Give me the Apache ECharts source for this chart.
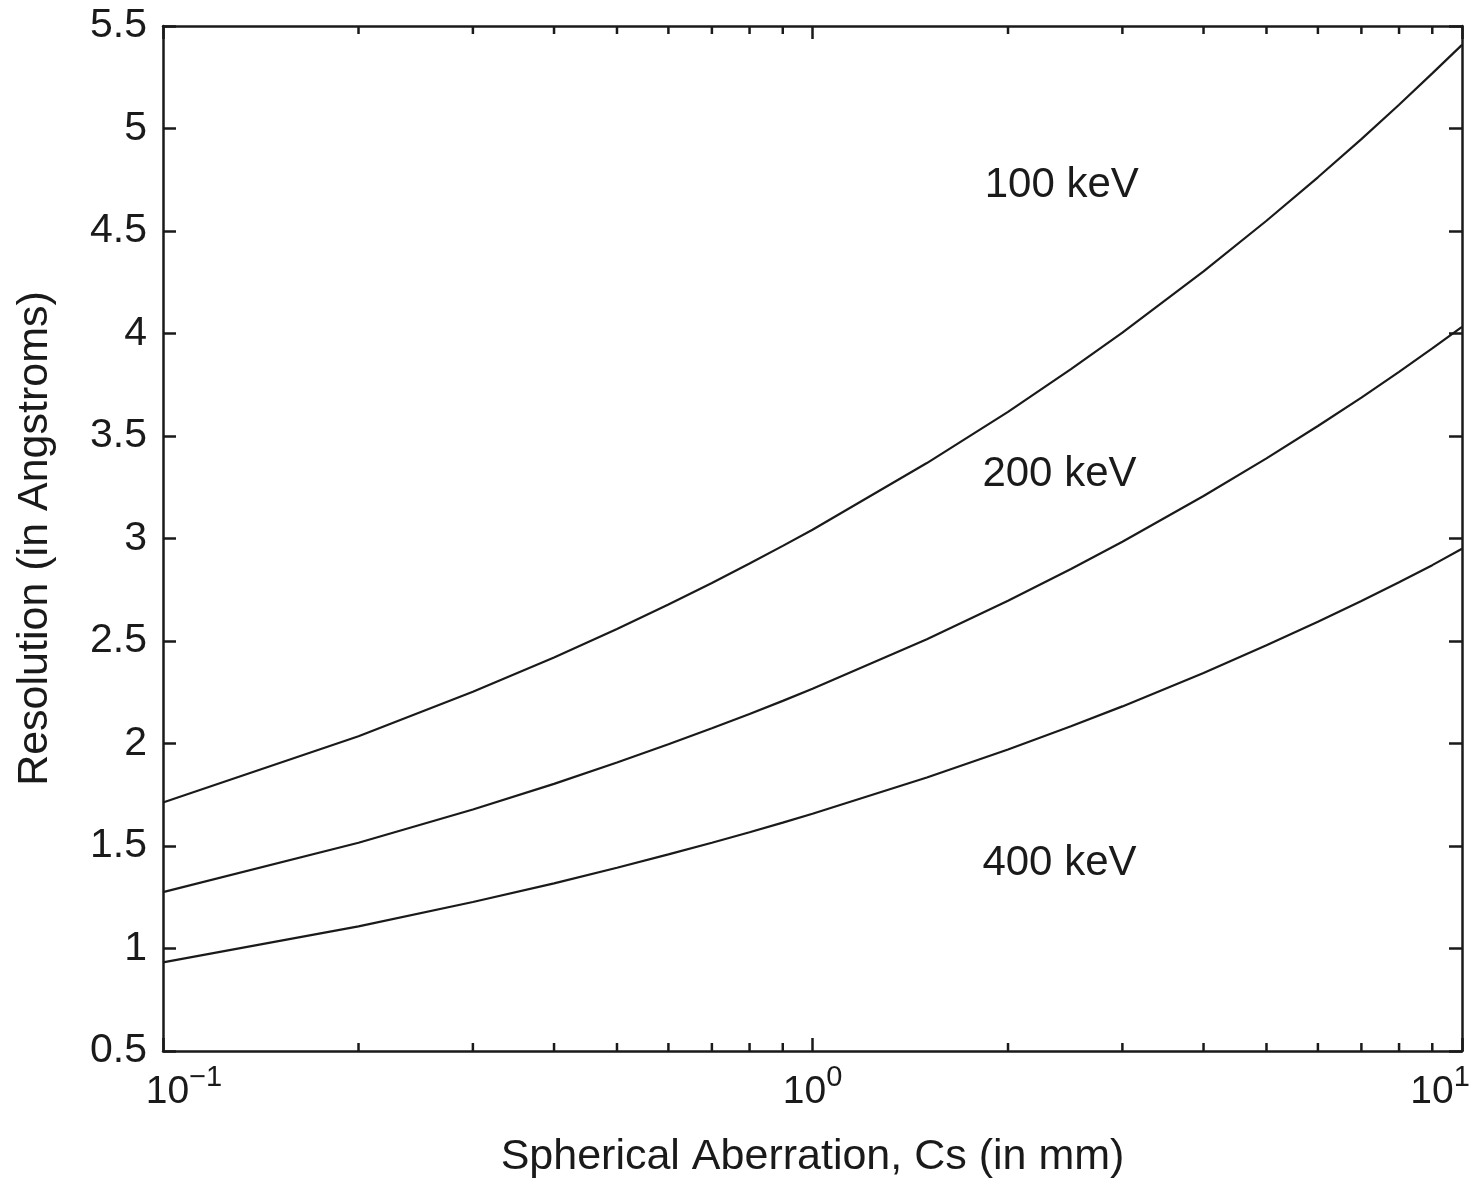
<!DOCTYPE html>
<html>
<head>
<meta charset="utf-8">
<script src="https://cdn.jsdelivr.net/npm/echarts@6/dist/echarts.min.js"></script>
<style>
html,body{margin:0;padding:0;background:#fff;}
#chart{width:1474px;height:1184px;}
</style>
</head>
<body>
<div id="chart"></div>
<script>
// ---- data ----
const cs = [0.1, 0.2, 0.3, 0.4, 0.5, 0.6, 0.7, 0.8, 0.9, 1, 1.5, 2, 2.5, 3, 4, 5, 6, 7, 8, 9, 10];
const res100 = [1.712, 2.035, 2.252, 2.420, 2.559, 2.678, 2.783, 2.878, 2.964, 3.043, 3.368, 3.618, 3.826, 4.004, 4.303, 4.550, 4.762, 4.948, 5.116, 5.269, 5.408];
const res200 = [1.275, 1.516, 1.678, 1.803, 1.907, 1.996, 2.074, 2.144, 2.208, 2.267, 2.509, 2.696, 2.851, 2.984, 3.207, 3.391, 3.549, 3.687, 3.813, 3.927, 4.032];
const res400 = [0.932, 1.108, 1.227, 1.318, 1.394, 1.459, 1.516, 1.567, 1.614, 1.657, 1.834, 1.971, 2.084, 2.181, 2.344, 2.479, 2.594, 2.695, 2.787, 2.870, 2.950];
const curveNames = ['100 keV', '200 keV', '400 keV'];
const curveLabelX = [2.42, 2.40, 2.40];
const curveLabelY = [4.72, 3.315, 1.415];
const xMin = 0.1, xMax = 10;
const yMin = 0.5, yMax = 5.5, yStep = 0.5;
const xMinorTicks = [0.2, 0.3, 0.4, 0.5, 0.6, 0.7, 0.8, 0.9, 2, 3, 4, 5, 6, 7, 8, 9];

// ---- styling ----
const INK = '#1a1a1a';
const FONT = '"Liberation Sans", Arial, Helvetica, sans-serif';

const zip = (xs, ys) => xs.map((x, i) => [x, ys[i]]);

const chart = echarts.init(document.getElementById('chart'), null, {renderer: 'canvas'});

const commonAxisLine = {show: true, onZero: false, lineStyle: {color: INK, width: 2.5}};
const commonTick = {show: true, inside: true, length: 13, lineStyle: {color: INK, width: 2.5}};

const lineSeries = [res100, res200, res400].map((arr, i) => ({
  name: curveNames[i],
  type: 'line',
  data: zip(cs, arr),
  symbol: 'none',
  smooth: false,
  lineStyle: {color: INK, width: 2.2},
  itemStyle: {color: INK},
  silent: true,
  z: 3
}));

const option = {
  animation: false,
  backgroundColor: '#fff',
  grid: {left: 163, right: 12, top: 26, bottom: 132, containLabel: false},
  xAxis: [
    {
      type: 'log', logBase: 10, min: xMin, max: xMax, position: 'bottom',
      axisLine: commonAxisLine, axisTick: commonTick,
      splitLine: {show: false}, minorTick: {show: false},
      axisLabel: {
        show: true, margin: 12, color: INK, fontFamily: FONT,
        formatter: function (v) {
          const e = Math.round(Math.log10(v));
          const sup = e < 0 ? '\u2212' + (-e) : String(e);
          const k = e === -1 ? 'L' : (e === 1 ? 'R' : 'M');
          return '{b' + k + '|10}{s' + k + '|' + sup + '}';
        },
        rich: {
          bL: {fontSize: 39, fontFamily: FONT, color: INK, padding: [10, 0, 0, 42], verticalAlign: 'bottom'},
          bM: {fontSize: 39, fontFamily: FONT, color: INK, padding: [10, 0, 0, 0], verticalAlign: 'bottom'},
          bR: {fontSize: 39, fontFamily: FONT, color: INK, padding: [10, 0, 0, 0], verticalAlign: 'bottom'},
          sL: {fontSize: 29, fontFamily: FONT, color: INK, verticalAlign: 'top'},
          sM: {fontSize: 29, fontFamily: FONT, color: INK, verticalAlign: 'top'},
          sR: {fontSize: 29, fontFamily: FONT, color: INK, verticalAlign: 'top', padding: [0, 44, 0, 0]}
        }
      },
      name: 'Spherical Aberration, Cs (in mm)',
      nameLocation: 'middle', nameGap: 85,
      nameTextStyle: {fontSize: 43, fontFamily: FONT, color: INK}
    },
    {
      type: 'log', logBase: 10, min: xMin, max: xMax, position: 'top',
      axisLine: commonAxisLine, axisTick: commonTick,
      splitLine: {show: false}, axisLabel: {show: false}
    }
  ],
  yAxis: [
    {
      type: 'value', min: yMin, max: yMax, interval: yStep, position: 'left',
      axisLine: commonAxisLine, axisTick: commonTick,
      splitLine: {show: false},
      axisLabel: {show: true, margin: 16, fontSize: 41, fontFamily: FONT, color: INK},
      name: 'Resolution (in Angstroms)',
      nameLocation: 'middle', nameGap: 106, nameRotate: 90,
      nameTextStyle: {fontSize: 43, fontFamily: FONT, color: INK}
    },
    {
      type: 'value', min: yMin, max: yMax, interval: yStep, position: 'right',
      axisLine: commonAxisLine, axisTick: commonTick,
      splitLine: {show: false}, axisLabel: {show: false}
    }
  ],
  series: lineSeries.concat([
    {
      type: 'scatter',
      data: curveNames.map((n, i) => ({value: [curveLabelX[i], curveLabelY[i]], name: n})),
      symbolSize: 0,
      silent: true,
      itemStyle: {opacity: 1, color: INK},
      label: {
        show: true, position: 'inside', formatter: '{b}', opacity: 1,
        fontSize: 42, fontFamily: FONT, color: INK
      },
      z: 4
    },
    {
      type: 'custom',
      data: xMinorTicks.map(v => [v, yMin]),
      silent: true,
      clip: false,
      renderItem: function (params, api) {
        const v = api.value(0);
        const pb = api.coord([v, yMin]);
        const pt = api.coord([v, yMax]);
        return {
          type: 'group',
          children: [
            {type: 'line', shape: {x1: pb[0], y1: pb[1], x2: pb[0], y2: pb[1] - 8}, style: {stroke: INK, lineWidth: 2.5}},
            {type: 'line', shape: {x1: pt[0], y1: pt[1], x2: pt[0], y2: pt[1] + 8}, style: {stroke: INK, lineWidth: 2.5}}
          ]
        };
      },
      z: 5
    }
  ])
};

chart.setOption(option);
</script>
</body>
</html>
